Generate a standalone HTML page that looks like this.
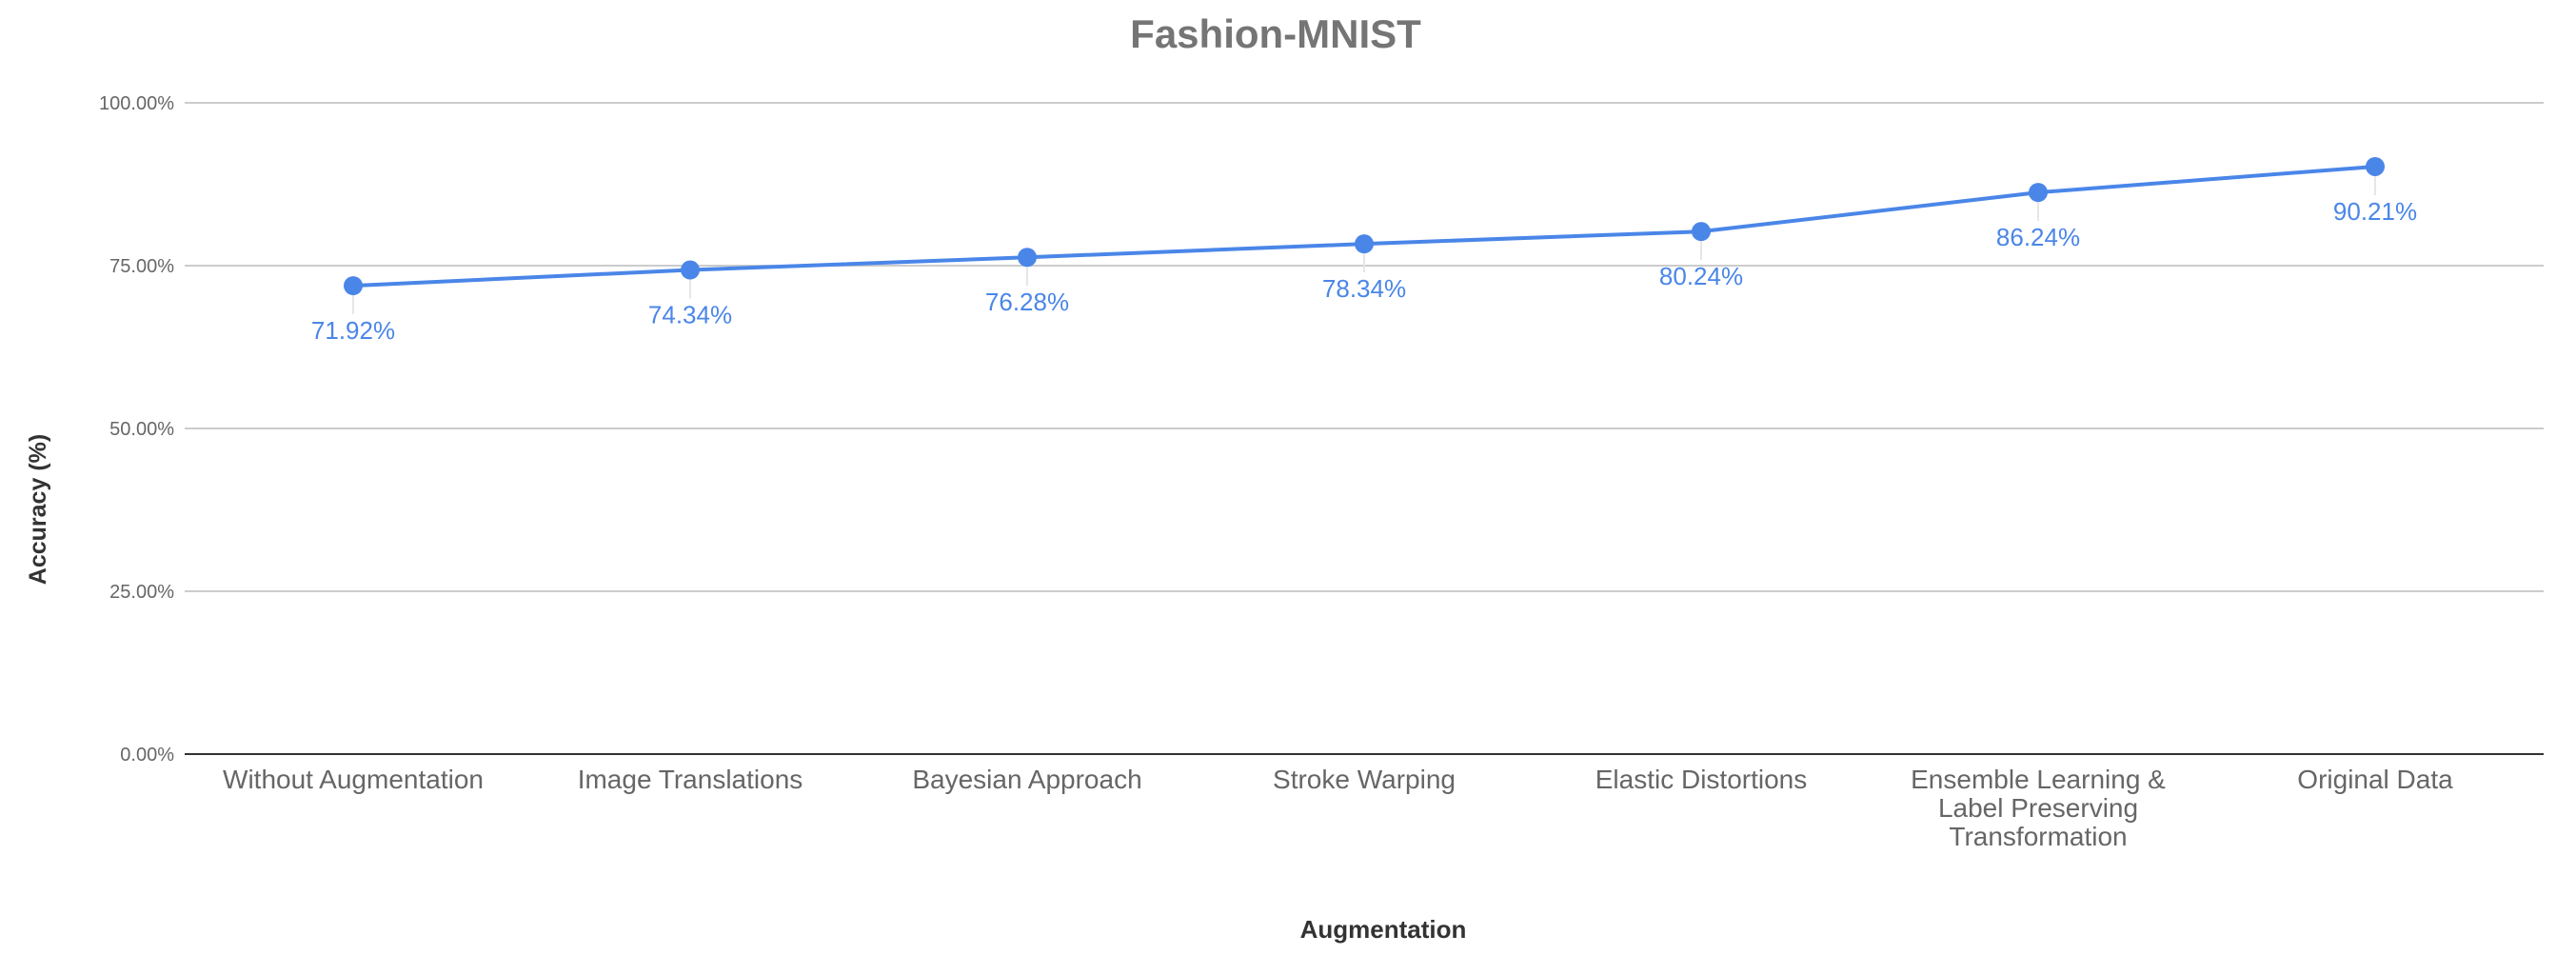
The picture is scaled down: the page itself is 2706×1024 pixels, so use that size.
<!DOCTYPE html>
<html><head><meta charset="utf-8"><style>
html,body{margin:0;padding:0;background:#fff;}
svg{display:block;font-family:"Liberation Sans",Arial,sans-serif;}
</style></head><body>
<svg id="chart" width="2706" height="1024" viewBox="0 0 2706 1024" xmlns="http://www.w3.org/2000/svg">
<rect width="2706" height="1024" fill="#fff"/>
<text x="1340" y="50" text-anchor="middle" font-size="42" font-weight="bold" fill="#757575">Fashion-MNIST</text>
<text transform="translate(48,535) rotate(-90)" text-anchor="middle" font-size="25" font-weight="bold" fill="#333">Accuracy (%)</text>
<text x="1453" y="985" text-anchor="middle" font-size="26" font-weight="bold" fill="#333">Augmentation</text>
<g id="grid"></g><g id="xlabels"></g><g id="series"></g>
</svg>
<script>
const categories = [["Without Augmentation"],["Image Translations"],["Bayesian Approach"],["Stroke Warping"],["Elastic Distortions"],["Ensemble Learning &","Label Preserving","Transformation"],["Original Data"]];
const values = [71.92, 74.34, 76.28, 78.34, 80.24, 86.24, 90.21];
const valueLabels = ["71.92%","74.34%","76.28%","78.34%","80.24%","86.24%","90.21%"];
const yTicks = [0, 25, 50, 75, 100];
const yTickLabels = ["0.00%","25.00%","50.00%","75.00%","100.00%"];

const NS = "http://www.w3.org/2000/svg";
const L = 194, R = 2672, T = 108, B = 792;
const yScale = v => B - (v / 100) * (B - T);
const band = (R - L) / categories.length;
const xScale = i => L + band * (i + 0.5);
function mk(tag, attrs, parent, text) {
  const e = document.createElementNS(NS, tag);
  for (const k in attrs) e.setAttribute(k, attrs[k]);
  if (text !== undefined) e.textContent = text;
  parent.appendChild(e);
  return e;
}
const grid = document.getElementById('grid');
yTicks.forEach((t, i) => {
  const y = yScale(t);
  const ln = mk('line', {x1: L, x2: R, y1: y, y2: y, stroke: t === 0 ? '#333' : '#ccc', 'stroke-width': 2}, grid);
  
  
  const tx = mk('text', {x: 183, y: y + 7, 'text-anchor': 'end', 'font-size': 20, fill: '#666'}, grid, yTickLabels[i]);
  
  
});
const xl = document.getElementById('xlabels');
categories.forEach((lines, i) => {
  const tx = mk('text', {x: xScale(i), y: 828, 'text-anchor': 'middle', 'font-size': 28, fill: '#666'}, xl);
  
  
  lines.forEach((s, j) => { mk('tspan', {x: xScale(i), dy: j === 0 ? 0 : 30}, tx, s); });
});
const sg = document.getElementById('series');
const pts = values.map((v, i) => xScale(i) + ',' + yScale(v)).join(' ');
const pl = mk('polyline', {points: pts, fill: 'none', stroke: '#4a86e8', 'stroke-width': 4, 'stroke-linejoin': 'round'}, sg);


values.forEach((v, i) => {
  const x = xScale(i), y = yScale(v);
  const ld = mk('line', {x1: x, x2: x, y1: y + 10, y2: y + 30, stroke: '#e6e6e6', 'stroke-width': 2}, sg);
  
  
  const c = mk('circle', {cx: x, cy: y, r: 10, fill: '#4a86e8'}, sg);
  
  
  const t = mk('text', {x: x, y: y + 56, 'text-anchor': 'middle', 'font-size': 26, fill: '#4a86e8'}, sg, valueLabels[i]);
  
  
});
</script>
</body></html>
